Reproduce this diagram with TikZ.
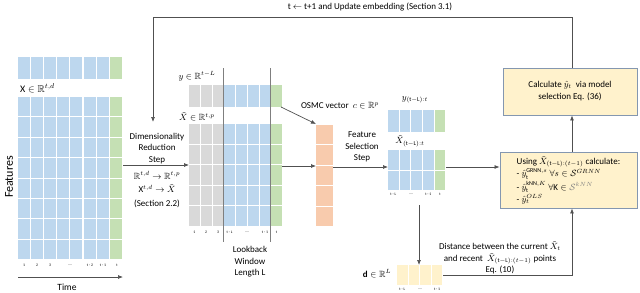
\documentclass[tikz,border=0pt]{standalone}
\usepackage{amsmath,amssymb}
\usepackage{fontspec}
\setmainfont{Carlito}
\usetikzlibrary{arrows.meta}
\definecolor{cblue}{HTML}{BDD7EE}
\definecolor{cgreen}{HTML}{C5E0B4}
\definecolor{cgrey}{HTML}{D9D9D9}
\definecolor{corange}{HTML}{F8CBAD}
\definecolor{cyellow}{HTML}{FFF2CC}
\definecolor{cborder}{HTML}{8497B0}
\definecolor{cline}{HTML}{505050}
\definecolor{cvline}{HTML}{7F7F7F}
\begin{document}
\begin{tikzpicture}[x=1pt,y=-1pt,
  conn/.style={draw=cline, line width=0.7pt},
  arr/.style={conn, -{Latex[length=5pt,width=4pt]}},
  lbl/.style={font=\fontsize{9}{11.5}\selectfont, align=center, inner sep=0pt},
  tinylbl/.style={font=\fontsize{3.8}{4}\selectfont, inner sep=0pt},
  box/.style={draw=cborder, fill=cyellow, line width=0.9pt}]
\useasboundingbox (0,0) rectangle (640,292);

% ---------- left matrix X ----------
\foreach \i in {0,...,7}{
  \ifnum\i<7 \def\cc{cblue}\else\def\cc{cgreen}\fi
  \fill[\cc] ({18+\i*13.1},57) rectangle ++(12,22);
  \foreach \j in {0,...,7} \fill[\cc] ({18+\i*13.1},{97+\j*20.4}) rectangle ++(12,19.4);
}
\node[lbl, anchor=west, font=\fontsize{10}{12}\selectfont] (xl) at (20,88) {$\mathrm{X}\in\mathbb{R}^{t,d}$};
\node[font=\fontsize{12}{14}\selectfont, rotate=90, inner sep=0pt] (feat) at (9,177) {Features};
\foreach \x/\t [count=\k] in {24/1,37/2,50/3,70/{....},90/{t - 2},103/{t - 1},117/t}
  \node[tinylbl] (xlab\k) at (\x,265) {\t};
\coordinate (tl) at (18,277);
\coordinate (tr) at (123,277);
\draw[arr] (tl) -- (tr);
\node[lbl, font=\fontsize{9.5}{11}\selectfont] (time) at (67,287) {Time};

% ---------- middle matrix ----------
\foreach \i in {0,...,7}{
  \ifnum\i<3 \def\cc{cgrey}\else\ifnum\i<7 \def\cc{cblue}\else\def\cc{cgreen}\fi\fi
  \fill[\cc] ({189+\i*11.75},85) rectangle ++(10.8,22);
  \foreach \j in {0,...,4} \fill[\cc] ({189+\i*11.75},{124+\j*20.6}) rectangle ++(10.8,19.6);
}
\coordinate (wl1) at (223.8,68); \coordinate (wl2) at (223.8,242);
\coordinate (wr1) at (270.8,68); \coordinate (wr2) at (270.8,242);
\draw[cvline, line width=0.9pt] (wl1) -- (wl2);
\draw[cvline, line width=0.9pt] (wr1) -- (wr2);
\node[lbl] (yl) at (197,76) {$y\in\mathbb{R}^{t-L}$};
\node[lbl] (xtl) at (197,117) {$\tilde{X}\in\mathbb{R}^{t,p}$};
\foreach \x/\t [count=\k] in {194.4/1,206/2,218/3,229.6/{t - L},247/{....},265/{t - 1},276.6/t}
  \node[tinylbl] (mlab\k) at (\x,232) {\t};
\node[lbl] (look) at (250,262) {Lookback\\Window\\Length L};

% ---------- left side text ----------
\node[lbl] (dimtxt) at (157,148.5) {Dimensionality\\Reduction\\Step};
\node[lbl] (maptxt) at (157,189.5) {$\mathbb{R}^{t,d}\rightarrow\mathbb{R}^{t,p}$\\[2pt]$\mathrm{X}^{t,d}\rightarrow\tilde{X}$\\[2pt](Section 2.2)};

% ---------- orange vector ----------
\foreach \j in {0,...,4} \fill[corange] (316,{125+\j*20.4}) rectangle ++(17,19.4);
\node[lbl] (osmc) at (340,106) {OSMC vector \ $c\in\mathbb{R}^{p}$};
\node[lbl] (fs) at (362,147) {Feature\\Selection\\Step};

% ---------- window matrix ----------
\foreach \i in {0,...,4}{
  \ifnum\i<4 \def\cc{cblue}\else\def\cc{cgreen}\fi
  \fill[\cc] ({388+\i*11.65},110) rectangle ++(10.6,22);
  \fill[\cc] ({388+\i*11.65},150) rectangle ++(10.6,19.5);
  \fill[\cc] ({388+\i*11.65},170.5) rectangle ++(10.6,19.5);
}
\node[lbl] (ywin) at (415,100) {$y_{(\mathrm{t-L}):t}$};
\node[lbl] (xwin) at (410,141) {$\tilde{X}_{(\mathrm{t-L}):t}$};
\foreach \x/\t [count=\k] in {393.3/{t - L},410.8/{....},428.3/{t - 1},440/t}
  \node[tinylbl] (rlab\k) at (\x,194) {\t};

% ---------- d vector ----------
\foreach \i in {0,...,3} \fill[cyellow] ({397+\i*11.6},265) rectangle ++(10.6,20);
\node[lbl] (dl) at (377,274) {$\mathbf{d}\in\mathbb{R}^{L}$};
\foreach \x/\t [count=\k] in {402.3/{t - L},420/{....},437.1/{t - 1}}
  \node[tinylbl] (dlab\k) at (\x,289.5) {\t};

% ---------- boxes ----------
\node[box, minimum width=134pt, minimum height=47pt, align=center,
      font=\fontsize{9}{12}\selectfont] (calc) at (570,91.5)
  {Calculate $\hat{y}_t$ \ via model\\selection Eq. (36)};
\node[box, minimum width=137pt, minimum height=56pt, align=left, inner sep=2pt,
      font=\fontsize{9}{10.5}\selectfont] (use) at (568.5,180)
  {Using $\tilde{X}_{(\mathrm{t-L}):(t-1)}$ calculate:\\[0.5pt]
   - $\hat{y}_{\mathrm{t}}^{\mathrm{GRNN},s}\ \forall s\in\mathcal{S}^{GRNN}$\\[1.5pt]
   - $\hat{y}_{\mathrm{t}}^{\mathrm{kNN},K}\ \forall \mathrm{K}\in{\color{gray}\mathcal{S}^{kNN}}$\\[1.5pt]
   - $\hat{y}_t^{OLS}$};

\node[lbl] (dist) at (500,258) {Distance between the current $\tilde{X}_t$\\and recent \ $\tilde{X}_{(\mathrm{t-L}):(t-1)}$ points\\Eq. (10)};
\node[lbl] (toplbl) at (370,7) {t $\leftarrow$ t+1 and Update embedding (Section 3.1)};

% ---------- connectors ----------
\coordinate (ux) at (572,0);
\coordinate (fbtop) at (0,17);
\coordinate (dimtop) at (153,122);
\coordinate (Xr) at (123,165);
\coordinate (Ml) at (189,165);
\coordinate (Mr) at (282,166);
\coordinate (Ol) at (316,166);
\coordinate (yg) at (281,107);
\coordinate (Ot) at (316,124);
\coordinate (Or) at (333,167);
\coordinate (Rl) at (388,167);
\coordinate (Rr) at (446,167);
\coordinate (Rd) at (419,205);
\coordinate (dt) at (419,265);
\coordinate (dr) at (443,275);

\draw[arr] (calc.north -| ux) -- (ux |- fbtop) -| (dimtop);
\draw[arr] (Xr) -- (Ml);
\draw[arr] (Mr) -- (Ol);
\draw[arr] (yg) -- (Ot);
\draw[arr] (Or) -- (Rl);
\draw[arr] (Rr) -- (use.west |- Rr);
\draw[arr] (Rd) -- (dt);
\draw[arr] (dr) -| (use.south -| ux);
\draw[arr] (use.north -| ux) -- (calc.south -| ux);
\end{tikzpicture}
\end{document}
